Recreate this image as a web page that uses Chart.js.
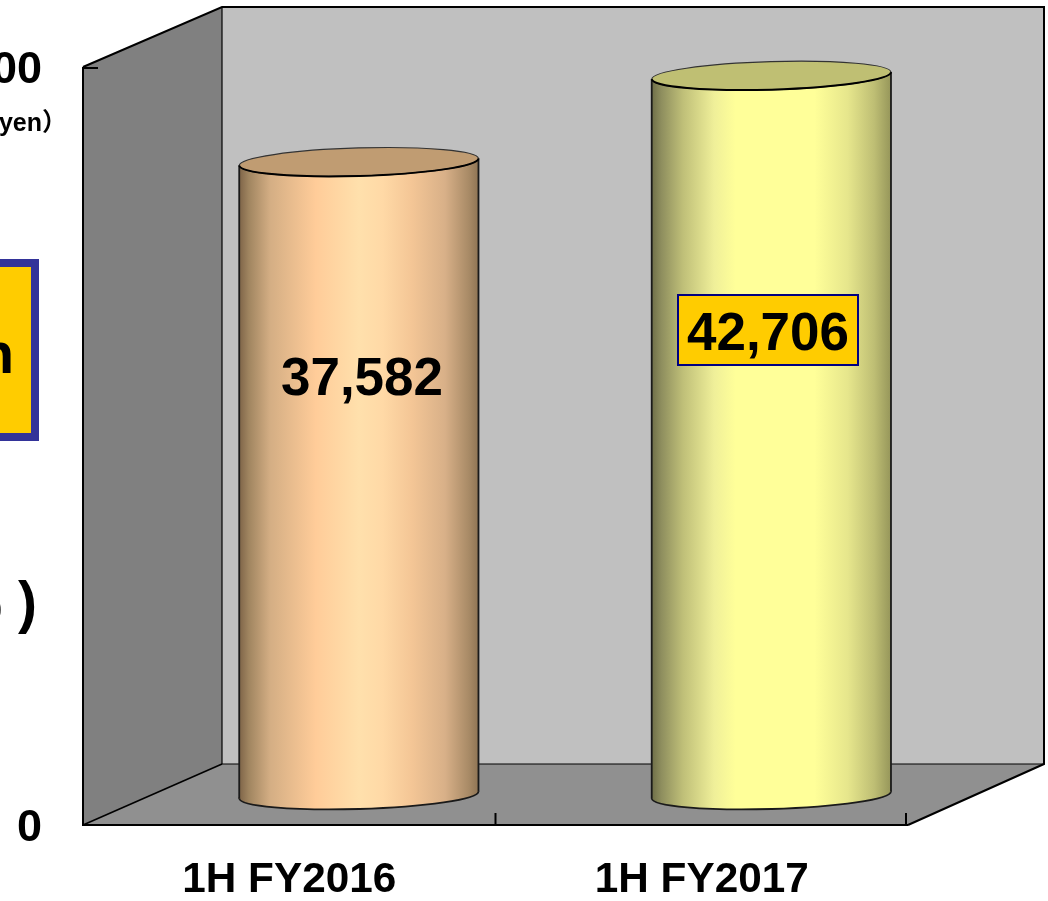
<!DOCTYPE html>
<html>
<head>
<meta charset="utf-8">
<style>html,body{margin:0;padding:0;background:#fff}canvas{display:block}</style>
<script src="https://cdn.jsdelivr.net/npm/chart.js@4/dist/chart.umd.min.js"></script>
</head>
<body>
<div style="width:1048px;height:901px;position:relative"><canvas id="c" width="1048" height="901"></canvas></div>
<script>
const categories = ["1H FY2016", "1H FY2017"];
const salesValues = [37582, 42706];
const axisTicks = [0, 45000];
const unitLabel = "（Millions of yen）";
const changeLabel = "+5,124 million";
const changeRateLabel = "( +13.6% )";
const fmt = v => v.toLocaleString("en-US");

const FONT = '"Liberation Sans", Arial, sans-serif';
const shades = [
  { top: "#C09C72", stops: [[0,"#7E6448"],[0.04,"#A08560"],[0.13,"#D4AE84"],[0.32,"#FFCC99"],[0.5,"#FFE0AC"],[0.6,"#FFD9A6"],[0.72,"#F4C696"],[0.86,"#D8B088"],[0.96,"#A88A66"],[1,"#8E7454"]] },
  { top: "#BFBF73", stops: [[0,"#6E6E48"],[0.04,"#8E8E5E"],[0.13,"#BFBF78"],[0.26,"#EFEF99"],[0.35,"#FFFF99"],[0.68,"#FFFF99"],[0.82,"#E6E68C"],[0.93,"#BEBE74"],[1,"#96965A"]] }
];
const BAR_SHARE = 0.58, DX = 69.6, DY = -30, TILT = -7 / 239, RY = 14;

const scene = {
  id: "scene",
  beforeDatasetsDraw(chart) {
    const { ctx, chartArea: a, scales: { x, y } } = chart;
    const L = a.left, R = a.right, T = a.top, B = a.bottom;
    const bl = 222, br = 1044, bt = 7, bb = 764;
    const poly = (pts, fill) => {
      ctx.beginPath();
      pts.forEach((p, i) => i ? ctx.lineTo(p[0], p[1]) : ctx.moveTo(p[0], p[1]));
      ctx.closePath();
      ctx.fillStyle = fill;
      ctx.fill();
    };
    const line = (pts, w) => {
      ctx.beginPath();
      pts.forEach((p, i) => i ? ctx.lineTo(p[0], p[1]) : ctx.moveTo(p[0], p[1]));
      ctx.lineWidth = w;
      ctx.strokeStyle = "#000";
      ctx.stroke();
    };
    ctx.save();
    poly([[bl, bt], [br, bt], [br, bb], [bl, bb]], "#C0C0C0");
    poly([[L, T], [bl, bt], [bl, bb], [L, B]], "#808080");
    poly([[L, B], [bl, bb], [br, bb], [R, B]], "#909090");
    line([[bl, bb], [br, bb]], 1.2);
    line([[bl, bt], [bl, bb]], 1.2);
    line([[L, B], [bl, bb]], 1.6);
    line([[L, T], [bl, bt], [br, bt], [br, bb], [R, B]], 2);
    line([[L, T], [L, B], [R, B]], 2);
    y.ticks.forEach(t => {
      const p = y.getPixelForValue(t.value);
      line([[L, p + (p < 100 ? 1 : 0)], [L + 15, p + (p < 100 ? 1 : 0)]], 2);
    });
    const half = (x.getPixelForValue(1) - x.getPixelForValue(0)) / 2;
    [x.getPixelForValue(0) + half, x.getPixelForValue(1) + half - 2].forEach(p => line([[p, B - 12], [p, B]], 2));
    ctx.restore();
  },
  beforeDatasetDraw(chart, args) {
    const { ctx } = chart;
    const meta = args.meta;
    meta.data.forEach((el, i) => {
      const p = el.getProps(["x", "y", "base", "width"], true);
      const hw = p.width / 2, ang = Math.atan(TILT);
      ctx.save();
      ctx.translate(DX, DY);
      const grad = gradientFor(ctx, p.x, p.width, i);
      // base curve
      ctx.beginPath();
      ctx.ellipse(p.x, p.base, hw, RY, ang, 0, Math.PI * 2);
      ctx.fillStyle = grad;
      ctx.fill();
      ctx.lineWidth = 1.8;
      ctx.strokeStyle = "#1a1a1a";
      ctx.stroke();
      // body: the library's bar, sheared to follow the tilt
      ctx.save();
      ctx.translate(p.x, 0);
      ctx.transform(1, TILT, 0, 1, 0, 0);
      ctx.translate(-p.x, 0);
      el.draw(ctx, chart.chartArea);
      ctx.beginPath();
      ctx.moveTo(p.x - hw, p.y); ctx.lineTo(p.x - hw, p.base);
      ctx.moveTo(p.x + hw, p.y); ctx.lineTo(p.x + hw, p.base);
      ctx.lineWidth = 1.8;
      ctx.strokeStyle = "#1a1a1a";
      ctx.stroke();
      ctx.restore();
      // top cap: thin rear edge, heavier front edge
      ctx.beginPath();
      ctx.ellipse(p.x, p.y, hw, RY, ang, 0, Math.PI * 2);
      ctx.fillStyle = shades[i].top;
      ctx.fill();
      ctx.lineWidth = 1.2;
      ctx.strokeStyle = "#333";
      ctx.stroke();
      ctx.beginPath();
      ctx.ellipse(p.x, p.y, hw, RY, ang, 0, Math.PI);
      ctx.lineWidth = 2;
      ctx.strokeStyle = "#000";
      ctx.stroke();
      ctx.restore();
    });
    return false;
  },
  afterDatasetsDraw(chart) {
    const { ctx } = chart;
    ctx.save();
    ctx.textBaseline = "middle";
    ctx.textAlign = "center";
    ctx.fillStyle = "#000";
    ctx.font = "bold 53px " + FONT;
    ctx.fillText(fmt(salesValues[0]), 362, 380);
    ctx.fillStyle = "#FFCC00";
    ctx.fillRect(678, 295, 180, 70);
    ctx.strokeStyle = "#000080";
    ctx.lineWidth = 2;
    ctx.strokeRect(678, 295, 180, 70);
    ctx.fillStyle = "#000";
    ctx.fillText(fmt(salesValues[1]), 768, 335);

    // unit label, cropped at the page edge as in the source
    ctx.textAlign = "right";
    ctx.font = 'bold 25px ' + FONT + ', "Noto Sans CJK JP"';
    ctx.fillText(unitLabel, 67, 124);

    // callout box, cropped at the page edge
    ctx.fillStyle = "#FFCC00";
    ctx.fillRect(-20, 263, 55, 174);
    ctx.strokeStyle = "#333399";
    ctx.lineWidth = 8;
    ctx.strokeRect(-20, 263, 55, 174);
    ctx.fillStyle = "#000";
    ctx.font = "bold 57px " + FONT;
    ctx.fillText(changeLabel, 14, 357);
    ctx.fillText(changeRateLabel, 37, 606);
    ctx.restore();
  }
};

function gradientFor(ctx, cx, w, i) {
  if (!Number.isFinite(cx) || !Number.isFinite(w)) return "#cccccc";
  const g = ctx.createLinearGradient(cx - w / 2, 0, cx + w / 2, 0);
  shades[i].stops.forEach(s => g.addColorStop(s[0], s[1]));
  return g;
}

new Chart(document.getElementById("c"), {
  type: "bar",
  data: {
    labels: categories,
    datasets: [{
      data: salesValues,
      borderWidth: 0,
      backgroundColor: c => {
        const xs = c.chart.scales.x;
        if (!xs) return "#cccccc";
        const w = (xs.getPixelForValue(1) - xs.getPixelForValue(0)) * BAR_SHARE;
        return gradientFor(c.chart.ctx, xs.getPixelForValue(c.dataIndex), w, c.dataIndex);
      },
      barPercentage: BAR_SHARE,
      categoryPercentage: 1
    }]
  },
  plugins: [scene],
  options: {
    responsive: false,
    animation: false,
    events: [],
    layout: { padding: { left: 0, right: 140, top: 67, bottom: 0 } },
    plugins: { legend: { display: false }, tooltip: { enabled: false }, title: { display: false } },
    scales: {
      x: {
        grid: { display: false },
        border: { display: false },
        afterFit: s => { s.height = 76; },
        ticks: {
          color: "#000", maxRotation: 0, autoSkip: false, padding: 22,
          font: { family: FONT, size: 42.3, weight: "bold" }
        }
      },
      y: {
        min: axisTicks[0], max: axisTicks[1],
        grid: { display: false },
        border: { display: false },
        afterBuildTicks: s => { s.ticks = axisTicks.map(v => ({ value: v })); },
        afterFit: s => { s.width = 83; },
        ticks: {
          color: "#000", padding: 33,
          callback: v => ["", fmt(v)],
          font: { family: FONT, size: 45, weight: "bold", lineHeight: "8px" }
        }
      }
    }
  }
});
</script>
</body>
</html>
